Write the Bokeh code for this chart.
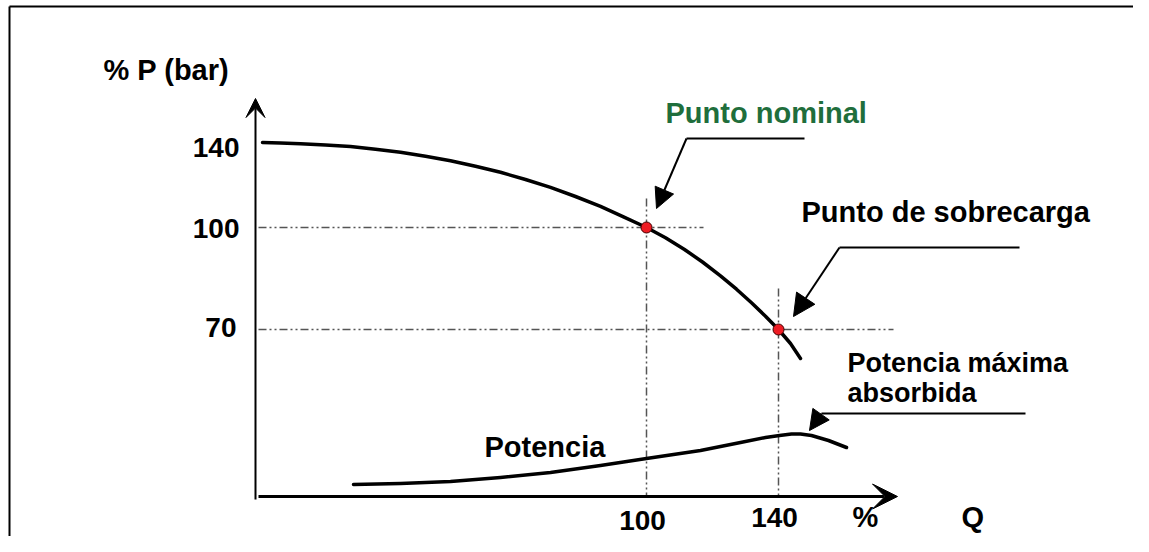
from bokeh.plotting import figure
from bokeh.models import Range1d, Arrow, VeeHead, NormalHead
from bokeh.core.properties import value
from bokeh.embed import file_html
from bokeh.resources import INLINE

# ---- data (diagram coordinates) ----
curva_x = [262, 280, 300, 325, 350, 375, 400, 425, 450, 475, 500, 525, 550, 575, 600, 623,
           646, 665, 684, 702, 720, 736, 751, 765, 778, 790, 800]
curva_y = [142, 142.5, 143.3, 144.5, 146, 148.7, 151.7, 155.7, 160.2, 165.7, 171.8, 179, 186.9,
           196, 205.9, 216.3, 227, 237.2, 249, 261.5, 275.3, 288.7, 302.3, 315.7, 329, 343, 358]

potencia_x = [353, 400, 450, 500, 550, 600, 646, 700, 740, 765, 779, 791, 800, 811, 828, 846]
potencia_y = [484, 483, 481, 477, 472, 465, 458, 450, 442, 437, 435, 433.5, 433.5, 435, 440, 447]

puntos_x = [646, 778]
puntos_y = [227, 329]

y_tick_labels = ["140", "100", "70"]
y_tick_base = [157, 238, 337]
x_tick_labels = ["100", "140"]
x_tick_pos = [642, 774]
x_tick_base = [530, 527]

FONT = value("Liberation Sans")

W, H = 1133, 536
p = figure(width=W, height=H, output_backend="svg", toolbar_location=None,
           x_range=Range1d(0, W), y_range=Range1d(H, 0), min_border=0)
p.axis.visible = False
p.grid.visible = False
p.outline_line_color = None
p.background_fill_color = "white"
p.border_fill_color = "white"

# frame border (top / left)
p.line([9, 9], [6, H], line_color="black", line_width=2)
p.line([9, W], [6, 6], line_color="black", line_width=2)

# dash-dot reference lines
dd = "8 3 2 3 2 3"
gc = "#555555"
p.line([258, 703], [227, 227], line_color=gc, line_width=1.5, line_dash=dd)
p.line([258, 893], [329, 329], line_color=gc, line_width=1.5, line_dash=dd)
p.line([646, 646], [198, 496], line_color=gc, line_width=1.5, line_dash=dd)
p.line([778, 778], [288, 496], line_color=gc, line_width=1.5, line_dash=dd)

# axes (arrows)
p.add_layout(Arrow(x_start=255, y_start=499, x_end=255, y_end=98, line_width=2,
                   end=VeeHead(size=19, fill_color="black", line_color="black", line_width=1)))
p.add_layout(Arrow(x_start=258, y_start=496, x_end=897, y_end=496, line_width=3,
                   end=VeeHead(size=25, fill_color="black", line_color="black", line_width=1)))

# curves
p.line(curva_x, curva_y, line_color="black", line_width=3.5, line_join="round", line_cap="round")
p.line(potencia_x, potencia_y, line_color="black", line_width=3.5, line_join="round", line_cap="round")

# points
p.scatter(puntos_x, puntos_y, size=11, fill_color="#ee1c24", line_color="#400000", line_width=1)

# annotation leaders
p.line([804, 686], [138, 138], line_color="black", line_width=2)
p.add_layout(Arrow(x_start=686, y_start=138, x_end=656, y_end=208, line_width=2,
                   end=NormalHead(size=20, fill_color="black", line_color="black", line_width=1)))
p.line([1019, 839], [247, 247], line_color="black", line_width=2)
p.add_layout(Arrow(x_start=839, y_start=247, x_end=793, y_end=316, line_width=2,
                   end=NormalHead(size=22, fill_color="black", line_color="black", line_width=1)))
p.line([1025, 821], [413, 413], line_color="black", line_width=2)
p.add_layout(Arrow(x_start=821, y_start=413, x_end=809, y_end=430, line_width=2,
                   end=NormalHead(size=20, fill_color="black", line_color="black", line_width=1)))

# texts: y given as baseline, drawn with middle anchoring (cap centre = baseline - 10)
def txt(x, base, t, align="left", size=29, color="black"):
    yy = [b - 0.345 * size for b in base]
    p.text(x=x, y=yy, text=t, text_font=FONT, text_font_style="bold", text_font_size=f"{size}px",
           text_color=color, text_align=align, text_baseline="middle")

txt([103], [80], ["% P (bar)"])
txt([239, 239, 236], y_tick_base, y_tick_labels, align="right", size=28)
txt(x_tick_pos, x_tick_base, x_tick_labels, align="center", size=28)
txt([852], [527], ["%"])
txt([961], [527], ["Q"])
txt([665], [123], ["Punto nominal"], color="#1f6e3c")
txt([801], [222], ["Punto de sobrecarga"])
txt([847, 847], [372, 402], ["Potencia máxima", "absorbida"], size=27)
txt([484], [457], ["Potencia"])

open("out.html", "w").write(file_html(p, INLINE))
